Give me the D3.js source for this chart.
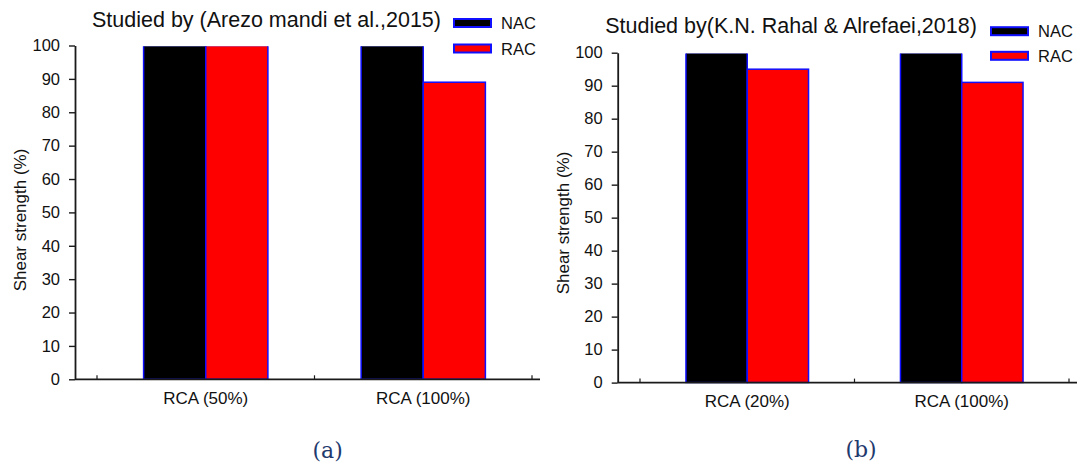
<!DOCTYPE html>
<html>
<head>
<meta charset="utf-8">
<script src="https://cdn.jsdelivr.net/npm/d3@7"></script>
<style>
  html, body { margin: 0; padding: 0; background: #fff; }
  svg { display: block; font-family: "Liberation Sans", Arial, sans-serif; }
</style>
</head>
<body>
<svg id="chart" width="1077" height="466"></svg>
<script>
// values
const seriesNames = ["NAC", "RAC"];
const seriesColors = ["#000000", "#ff0000"];
const yTickValues = [0, 10, 20, 30, 40, 50, 60, 70, 80, 90, 100];

const categoriesA = ["RCA (50%)", "RCA (100%)"];
const nacA = [100, 100];
const racA = [100, 89];

const categoriesB = ["RCA (20%)", "RCA (100%)"];
const nacB = [100, 100];
const racB = [95, 91];

const titleA = "Studied by (Arezo mandi et al.,2015)";
const titleB = "Studied by(K.N. Rahal & Alrefaei,2018)";
const yLabel = "Shear strength (%)";

const svg = d3.select("#chart");

drawPanel({
  id: "a", title: titleA, categories: categoriesA, nac: nacA, rac: racA,
  axisX: 75, top: 45.5, bottom: 379.3, bandStart: 97, bandEnd: 532, axisEnd: 540,
  titleX: 266.5, titleY: 27.3, legendX: 453, legendY: [23, 48.5],
  labelY: 404, yLabelX: 25.5, yLabelY: 220, caption: "(a)", captionX: 327.6, captionY: 458
});

drawPanel({
  id: "b", title: titleB, categories: categoriesB, nac: nacB, rac: racB,
  axisX: 617.7, top: 52.7, bottom: 382.6, bandStart: 640, bandEnd: 1069, axisEnd: 1080,
  titleX: 791, titleY: 32.5, legendX: 990, legendY: [31.2, 55.8],
  labelY: 406.7, yLabelX: 569, yLabelY: 223, caption: "(b)", captionX: 861, captionY: 456.7
});

function drawPanel(p) {
  const rows = p.categories.map((c, i) => ({ cat: c, values: [p.nac[i], p.rac[i]] }));

  const y = d3.scaleLinear().domain([0, 100]).range([p.bottom, p.top]);

  const x0 = d3.scaleBand()
    .domain(p.categories)
    .range([p.bandStart, p.bandEnd])
    .padding(0);

  const x1 = d3.scaleBand()
    .domain(seriesNames)
    .range([0, x0.bandwidth()])
    .paddingInner(0)
    .paddingOuter(0.75);

  const g = svg.append("g").attr("class", "panel-" + p.id);

  // clip so the bars at 100 lose their top border like the original
  g.append("clipPath").attr("id", "clip-" + p.id)
    .append("rect")
    .attr("x", p.axisX).attr("y", p.top + 0.8)
    .attr("width", p.bandEnd - p.axisX + 20).attr("height", p.bottom - p.top);

  const bars = g.append("g").attr("clip-path", `url(#clip-${p.id})`);

  bars.selectAll("g")
    .data(rows)
    .enter()
    .append("g")
    .attr("transform", (d) => `translate(${x0(d.cat)},0)`)
    .selectAll("rect")
    .data((d) => d.values.map((v, i) => ({ key: seriesNames[i], value: v, color: seriesColors[i] })))
    .enter()
    .append("rect")
    .attr("x", (d) => x1(d.key))
    .attr("y", (d) => y(d.value))
    .attr("width", x1.bandwidth())
    .attr("height", (d) => y(0) - y(d.value))
    .style("fill", (d) => d.color)
    .style("stroke", "#1010ff")
    .style("stroke-width", 1.5);

  // y axis
  const yAxis = g.append("g")
    .attr("transform", `translate(${p.axisX},0)`)
    .call(d3.axisLeft(y).tickValues(yTickValues).tickSize(6).tickSizeOuter(0).tickPadding(9));
  yAxis.select(".domain").attr("stroke", "#1a1a1a").attr("stroke-width", 1.8);
  yAxis.selectAll(".tick line").attr("stroke", "#1a1a1a").attr("stroke-width", 1.4);
  yAxis.selectAll(".tick text")
    .attr("fill", "#111")
    .style("font-size", "16.5px")
    .style("font-family", "'Liberation Sans', Arial, sans-serif");

  // x axis: plain line, small upward ticks at the band edges
  g.append("line")
    .attr("x1", p.axisX).attr("x2", p.axisEnd)
    .attr("y1", y(0)).attr("y2", y(0))
    .attr("stroke", "#1a1a1a").attr("stroke-width", 1.8);

  const edges = p.categories.map((c) => x0(c)).concat([x0(p.categories[p.categories.length - 1]) + x0.bandwidth()]);
  g.selectAll(".xtick")
    .data(edges)
    .enter()
    .append("line")
    .attr("class", "xtick")
    .attr("x1", (d) => d).attr("x2", (d) => d)
    .attr("y1", y(0)).attr("y2", y(0) - 4)
    .attr("stroke", "#1a1a1a").attr("stroke-width", 1.2);

  g.selectAll(".xlabel")
    .data(p.categories)
    .enter()
    .append("text")
    .attr("class", "xlabel")
    .attr("x", (d) => x0(d) + x0.bandwidth() / 2)
    .attr("y", p.labelY)
    .attr("text-anchor", "middle")
    .attr("fill", "#111")
    .style("font-size", "17px")
    .text((d) => d);

  g.append("text")
    .attr("transform", `translate(${p.yLabelX},${p.yLabelY}) rotate(-90)`)
    .attr("text-anchor", "middle")
    .attr("fill", "#111")
    .style("font-size", "17px")
    .text(yLabel);

  g.append("text")
    .attr("x", p.titleX)
    .attr("y", p.titleY)
    .attr("text-anchor", "middle")
    .attr("fill", "#111")
    .style("font-size", "21.5px")
    .text(p.title);

  // legend
  const legend = g.selectAll(".legend")
    .data(seriesNames)
    .enter()
    .append("g")
    .attr("class", "legend")
    .attr("transform", (d, i) => `translate(${p.legendX},${p.legendY[i]})`);

  legend.append("rect")
    .attr("x", 1).attr("y", -4)
    .attr("width", 37).attr("height", 8)
    .style("fill", (d, i) => seriesColors[i])
    .style("stroke", "#1010ff")
    .style("stroke-width", 2);

  legend.append("text")
    .attr("x", 48)
    .attr("y", 6)
    .attr("fill", "#111")
    .style("font-size", "16.5px")
    .text((d) => d);

  g.append("text")
    .attr("x", p.captionX)
    .attr("y", p.captionY)
    .attr("text-anchor", "middle")
    .attr("fill", "#1f3a6e")
    .style("font-family", "'DejaVu Serif', 'Liberation Serif', serif")
    .style("font-size", "22px")
    .text(p.caption);
}
</script>
</body>
</html>
